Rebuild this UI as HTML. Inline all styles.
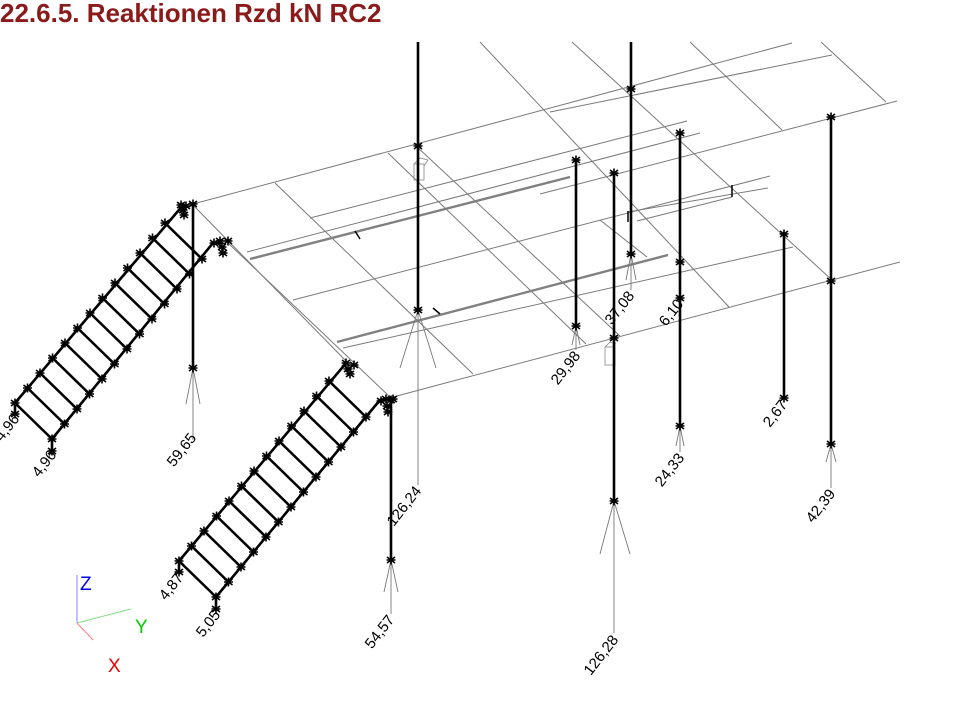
<!DOCTYPE html>
<html><head><meta charset="utf-8"><style>
html,body{margin:0;padding:0;background:#fff;width:960px;height:720px;overflow:hidden}
svg{display:block}
.t{font-family:"Liberation Sans",sans-serif;font-size:15px;fill:#000}
</style></head><body>
<svg width="960" height="720" viewBox="0 0 960 720" xmlns="http://www.w3.org/2000/svg">
<defs>
<g id="s" stroke="#000" stroke-width="1.6" fill="none"><path d="M-4 -3 L4 3 M-4 3 L4 -3 M0 -4.5 L0 4.5 M-4.5 0 L4.5 0"/></g>
</defs>
<text x="0" y="22" style="font-family:'Liberation Sans',sans-serif;font-size:26px;font-weight:bold;fill:#8b1a1a">22.6.5. Reaktionen Rzd kN RC2</text>

<!-- grid thin lines -->
<g stroke="#7a7a7a" stroke-width="1" fill="none">
<path d="M193 204 L792 43"/>
<path d="M550 112 L832 55"/>
<path d="M540 194 L897 101"/>
<path d="M247 252 L700 133"/>
<path d="M310 218 L687 121"/>
<path d="M293 300 L770 176"/>
<path d="M343 348 L793 247"/>
<path d="M393 397 L832 280 L900 262"/>
<path d="M628 212 L768 188"/>
<path d="M637 221 L732 197"/>
<path d="M193 205 L347 362"/>
<path d="M228 243 L390 397"/>
<path d="M275 183 L473 374"/>
<path d="M388 153 L586 344"/>
<path d="M416 146 L620 336"/>
<path d="M480 42 L729 307"/>
<path d="M572 42 L832 280"/>
<path d="M690 42 L782 130"/>
<path d="M821 42 L886 102"/>
<path d="M600 220 L647 257"/>
</g>
<!-- thick grey beams -->
<g stroke="#808080" stroke-width="2.4" fill="none">
<path d="M250 259 L570 177"/>
<path d="M337 342 L668 255"/>
</g>
<g stroke="#000" stroke-width="1.5">
<path d="M355 231 L360 239"/><path d="M433 308 L440 314"/>
<path d="M732 185 L732 197"/><path d="M628 211 L628 222"/>
</g>
<!-- support icons -->
<g stroke="#888" stroke-width="0.8" fill="none">
<rect x="414" y="164" width="10" height="16"/><path d="M414 164 L420 158 L428 160 L424 166"/>
<rect x="605" y="347" width="10" height="18"/><path d="M605 347 L610 342 L616 344"/>
</g>

<!-- reaction arrows grey -->
<g stroke="#777" stroke-width="0.9" fill="none">
<path d="M193 368 L193 440 M193 368 L186 404 M193 368 L200 404"/>
<path d="M418 310 L418 485 M418 310 L400 368 M418 310 L436 368"/>
<path d="M631 254 L631 290 M631 254 L626 280 M631 254 L636 280"/>
<path d="M576 326 L576 350 M576 326 L572 345 M576 326 L580 345"/>
<path d="M614 501 L614 633 M614 501 L600 554 M614 501 L630 554"/>
<path d="M680 426 L680 452 M680 426 L676 446 M680 426 L684 446"/>
<path d="M831 444 L831 488 M831 444 L826 462 M831 444 L836 462"/>
<path d="M391 560 L391 614 M391 560 L384 592 M391 560 L398 592"/>
</g>

<!-- columns -->
<g stroke="#000" stroke-width="2.6">
<path d="M193 204 L193 368"/>
<path d="M418 42 L418 310"/>
<path d="M631 42 L631 254"/>
<path d="M576 160 L576 326"/>
<path d="M614 173 L614 501"/>
<path d="M680 133 L680 426"/>
<path d="M784 234 L784 398"/>
<path d="M831 117 L831 444"/>
<path d="M391 400 L391 560"/>
</g>
<g>
<use href="#s" x="193" y="204"/><use href="#s" x="193" y="368"/>
<use href="#s" x="418" y="146"/><use href="#s" x="418" y="310"/>
<use href="#s" x="631" y="89"/><use href="#s" x="631" y="254"/>
<use href="#s" x="576" y="160"/><use href="#s" x="576" y="326"/>
<use href="#s" x="614" y="173"/><use href="#s" x="614" y="338"/><use href="#s" x="614" y="501"/>
<use href="#s" x="680" y="133"/><use href="#s" x="680" y="262"/><use href="#s" x="680" y="298"/><use href="#s" x="680" y="426"/>
<use href="#s" x="784" y="234"/><use href="#s" x="784" y="398"/>
<use href="#s" x="831" y="117"/><use href="#s" x="831" y="281"/><use href="#s" x="831" y="444"/>
<use href="#s" x="391" y="400"/><use href="#s" x="391" y="560"/>
</g>

<!-- left stair -->
<g stroke="#000" stroke-width="2.6" fill="none">
<path d="M184 204 L15 403 L15 414"/>
<path d="M213 243 L52 439 L52 451"/>
<path d="M165 223 L202 259 M152.5 238 L189.5 274 M140 253 L177 289 M127.5 268 L164.5 304 M115 283 L152 319 M102.5 298 L139.5 334 M90 313 L127 349 M77.5 328 L114.5 364 M65 343 L102 379 M52.5 358 L89.5 394 M40 373 L77 409 M27.5 388 L64.5 424 M15 403 L52 439"/>
<path d="M213 243 L222 243"/>
</g>
<g>
<use href="#s" x="165" y="223"/><use href="#s" x="152.5" y="238"/><use href="#s" x="140" y="253"/><use href="#s" x="127.5" y="268"/><use href="#s" x="115" y="283"/><use href="#s" x="102.5" y="298"/><use href="#s" x="90" y="313"/><use href="#s" x="77.5" y="328"/><use href="#s" x="65" y="343"/><use href="#s" x="52.5" y="358"/><use href="#s" x="40" y="373"/><use href="#s" x="27.5" y="388"/><use href="#s" x="15" y="403"/><use href="#s" x="15" y="414"/>
<use href="#s" x="202" y="259"/><use href="#s" x="189.5" y="274"/><use href="#s" x="177" y="289"/><use href="#s" x="164.5" y="304"/><use href="#s" x="152" y="319"/><use href="#s" x="139.5" y="334"/><use href="#s" x="127" y="349"/><use href="#s" x="114.5" y="364"/><use href="#s" x="102" y="379"/><use href="#s" x="89.5" y="394"/><use href="#s" x="77" y="409"/><use href="#s" x="64.5" y="424"/><use href="#s" x="52" y="439"/><use href="#s" x="52" y="451"/>
<use href="#s" x="181" y="205"/><use href="#s" x="183" y="210"/><use href="#s" x="184" y="215"/><use href="#s" x="186" y="206"/>
<use href="#s" x="214" y="243"/><use href="#s" x="220" y="241"/><use href="#s" x="222" y="247"/><use href="#s" x="223" y="253"/><use href="#s" x="228" y="241"/>
</g>

<!-- right stair -->
<g stroke="#000" stroke-width="2.6" fill="none">
<path d="M347 362 L179 561 L179 572"/>
<path d="M380 400 L216 597 L216 609"/>
<path d="M329 381 L366 417 M316.5 396 L353.5 432 M304 411 L341 447 M291.5 426 L328.5 462 M279 441 L316 477 M266.5 456 L303.5 492 M254 471 L291 507 M241.5 486 L278.5 522 M229 501 L266 537 M216.5 516 L253.5 552 M204 531 L241 567 M191.5 546 L228.5 582 M179 561 L216 597"/>
<path d="M380 400 L392 398"/>
</g>
<g>
<use href="#s" x="329" y="381"/><use href="#s" x="316.5" y="396"/><use href="#s" x="304" y="411"/><use href="#s" x="291.5" y="426"/><use href="#s" x="279" y="441"/><use href="#s" x="266.5" y="456"/><use href="#s" x="254" y="471"/><use href="#s" x="241.5" y="486"/><use href="#s" x="229" y="501"/><use href="#s" x="216.5" y="516"/><use href="#s" x="204" y="531"/><use href="#s" x="191.5" y="546"/><use href="#s" x="179" y="561"/><use href="#s" x="179" y="572"/>
<use href="#s" x="366" y="417"/><use href="#s" x="353.5" y="432"/><use href="#s" x="341" y="447"/><use href="#s" x="328.5" y="462"/><use href="#s" x="316" y="477"/><use href="#s" x="303.5" y="492"/><use href="#s" x="291" y="507"/><use href="#s" x="278.5" y="522"/><use href="#s" x="266" y="537"/><use href="#s" x="253.5" y="552"/><use href="#s" x="241" y="567"/><use href="#s" x="228.5" y="582"/><use href="#s" x="216" y="597"/><use href="#s" x="216" y="609"/>
<use href="#s" x="346" y="363"/><use href="#s" x="348" y="369"/><use href="#s" x="350" y="374"/><use href="#s" x="354" y="365"/>
<use href="#s" x="381" y="401"/><use href="#s" x="386" y="399"/><use href="#s" x="387" y="406"/><use href="#s" x="388" y="412"/><use href="#s" x="393" y="399"/>
</g>

<!-- labels -->
<g class="t">
<text text-anchor="end" transform="translate(197,438) rotate(-52)">59,65</text>
<text text-anchor="end" transform="translate(422,491) rotate(-52)">126,24</text>
<text text-anchor="end" transform="translate(395,620) rotate(-52)">54,57</text>
<text text-anchor="end" transform="translate(619,640) rotate(-52)">126,28</text>
<text text-anchor="end" transform="translate(581,356) rotate(-52)">29,98</text>
<text text-anchor="end" transform="translate(635,296) rotate(-52)">37,08</text>
<text text-anchor="end" transform="translate(684,304) rotate(-52)">6,10</text>
<text text-anchor="end" transform="translate(685,458) rotate(-52)">24,33</text>
<text text-anchor="end" transform="translate(788,405) rotate(-52)">2,67</text>
<text text-anchor="end" transform="translate(836,494) rotate(-52)">42,39</text>
<text text-anchor="end" transform="translate(57,455) rotate(-52)">4,96</text>
<text text-anchor="end" transform="translate(20,419) rotate(-52)">4,96</text>
<text text-anchor="end" transform="translate(184,578) rotate(-52)">4,87</text>
<text text-anchor="end" transform="translate(221,615) rotate(-52)">5,05</text>
</g>

<!-- axes -->
<g stroke-width="1">
<path d="M77 623 L77 575" stroke="#8080ff"/>
<path d="M77 623 L131 609" stroke="#80e080"/>
<path d="M77 623 L93 640" stroke="#ff8080"/>
</g>
<text x="80" y="590" style="font-family:'Liberation Sans',sans-serif;font-size:19px;fill:#0000ee">Z</text>
<text x="135" y="633" style="font-family:'Liberation Sans',sans-serif;font-size:19px;fill:#00cc00">Y</text>
<text x="108" y="672" style="font-family:'Liberation Sans',sans-serif;font-size:19px;fill:#ee0000">X</text>
</svg>
</body></html>
